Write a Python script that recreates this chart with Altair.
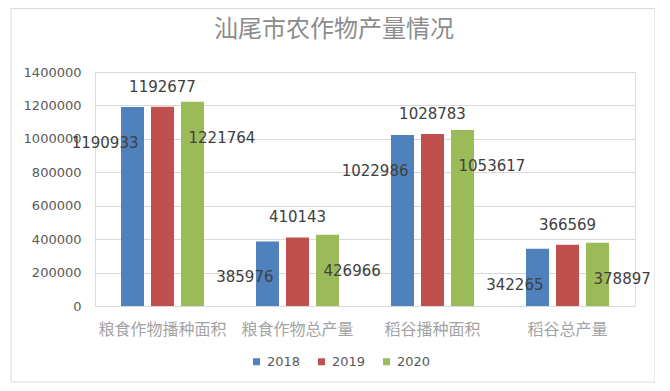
import altair as alt
import pandas as pd

categories = ["粮食作物播种面积", "粮食作物总产量", "稻谷播种面积", "稻谷总产量"]
years = ["2018", "2019", "2020"]
values_2018 = [1190933, 385976, 1022986, 342265]
values_2019 = [1192677, 410143, 1028783, 366569]
values_2020 = [1221764, 426966, 1053617, 378897]
colors = ["#4F81BD", "#C0504D", "#9BBB59"]
y_ticks = [0, 200000, 400000, 600000, 800000, 1000000, 1200000, 1400000]
title_text = "汕尾市农作物产量情况"

rows = []
for yr, vals in zip(years, [values_2018, values_2019, values_2020]):
    for c, v in zip(categories, vals):
        rows.append({"category": c, "year": yr, "value": v})
df = pd.DataFrame(rows)

x_enc = alt.X(
    "category:N",
    sort=categories,
    scale=alt.Scale(domain=categories, paddingInner=1 / 3, paddingOuter=1 / 6),
    axis=alt.Axis(
        title=None, labelAngle=0, labelFont="Noto Sans CJK SC", labelFontSize=16,
        labelColor="#a3a3a3", labelPadding=15, ticks=False, domain=False, grid=False,
    ),
)
xoff = alt.XOffset(
    "year:N", sort=years,
    scale=alt.Scale(domain=years, paddingInner=0.233, paddingOuter=0.1167),
)
y_enc = alt.Y(
    "value:Q",
    scale=alt.Scale(domain=[0, 1400000], nice=False),
    axis=alt.Axis(
        title=None, values=y_ticks, format="d", labelFont="DejaVu Sans",
        labelFontSize=13, labelColor="#595959", labelPadding=14, ticks=False,
        domain=False, gridColor="#d9d9d9",
    ),
)
color = alt.Color(
    "year:N",
    scale=alt.Scale(domain=years, range=colors),
    legend=alt.Legend(
        title=None, orient="none", direction="horizontal", legendX=155, legendY=283,
        symbolType="square", symbolSize=49, symbolStrokeWidth=0,
        labelFont="DejaVu Sans", labelFontSize=13, labelColor="#595959",
        columnPadding=14, labelOffset=4,
    ),
)

base = alt.Chart(df).encode(x=x_enc, xOffset=xoff, y=y_enc)
bars = base.mark_bar().encode(color=color)

txt = dict(font="DejaVu Sans", fontSize=15, color="#404040", baseline="middle")
lab_top = base.transform_filter(alt.datum.year == "2019").mark_text(
    dy=-20, align="center", **txt
).encode(text=alt.Text("value:Q", format="d"))
lab_left = base.transform_filter(alt.datum.year == "2018").mark_text(
    dy=36, dx=6, align="right", **txt
).encode(text=alt.Text("value:Q", format="d"))
lab_right = base.transform_filter(alt.datum.year == "2020").mark_text(
    dy=36, dx=-4, align="left", **txt
).encode(text=alt.Text("value:Q", format="d"))

single = pd.DataFrame({"k": [0]})
border = alt.Chart(single).mark_rect(
    fillOpacity=0, stroke="#d9d9d9", strokeWidth=1
).encode(
    x=alt.value(-84), x2=alt.value(560), y=alt.value(-63.5), y2=alt.value(310)
)
title = alt.Chart(single).mark_text(
    text=title_text, font="Noto Sans CJK SC", fontSize=24, color="#8c8c8c",
    align="center", baseline="middle",
).encode(x=alt.value(239), y=alt.value(-42))

chart = alt.layer(border, title, bars, lab_top, lab_left, lab_right).properties(
    width=540,
    height=234,
    autosize=alt.AutoSizeParams(type="none"),
    padding={"left": 87, "top": 64, "right": 20, "bottom": 77},
).configure_view(strokeWidth=0).configure(background="white")

chart.save("out.html", embed_options={"renderer": "svg", "actions": False})
